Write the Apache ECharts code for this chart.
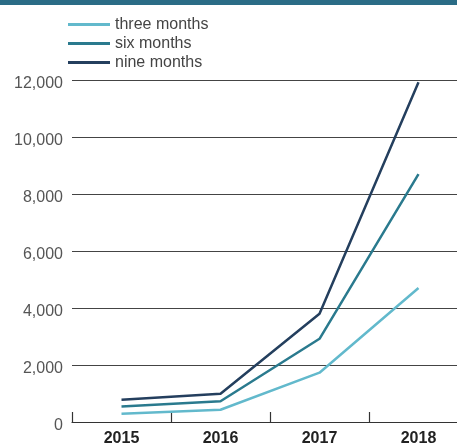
<!DOCTYPE html>
<html>
<head>
<meta charset="utf-8">
<script src="https://cdn.jsdelivr.net/npm/echarts@6/dist/echarts.min.js"></script>
<style>
  html, body { margin: 0; padding: 0; background: #fff; }
  #chart { width: 457px; height: 447px; }
</style>
</head>
<body>
<div id="chart"></div>
<script>
// Years on the category axis
const years = ['2015', '2016', '2017', '2018'];

// Totals per period length
const threeMonths = [290, 430, 1730, 4700];
const sixMonths = [540, 730, 2920, 8700];
const nineMonths = [780, 990, 3800, 11920];

// Value axis ticks
const yTicks = [0, 2000, 4000, 6000, 8000, 10000, 12000];

const seriesNames = ['three months', 'six months', 'nine months'];
const seriesColors = ['#62b9cc', '#2a7a8e', '#243f5e'];
const seriesData = [threeMonths, sixMonths, nineMonths];

const FONT = 'Liberation Sans, Arial, sans-serif';

const chart = echarts.init(document.getElementById('chart'));

chart.setOption({
  animation: false,
  backgroundColor: '#ffffff',
  graphic: [{
    type: 'rect',
    left: 0, top: 0,
    shape: { width: 457, height: 5 },
    style: { fill: '#2b6c86' }
  }],
  legend: {
    orient: 'vertical',
    left: 63,
    top: 11,
    itemWidth: 42,
    itemHeight: 3,
    itemGap: 2,
    icon: 'rect',
    data: seriesNames,
    textStyle: {
      fontFamily: FONT,
      fontSize: 16,
      lineHeight: 17,
      color: '#444'
    }
  },
  grid: {
    left: 72,
    width: 396,
    top: 80,
    bottom: 25,
    containLabel: false,
    outerBoundsMode: 'none'
  },
  xAxis: {
    type: 'category',
    data: years,
    boundaryGap: true,
    axisLine: { lineStyle: { color: '#333', width: 1.2 } },
    axisTick: { show: true, inside: true, length: 10, lineStyle: { color: '#333', width: 1.2 } },
    axisLabel: {
      fontFamily: FONT,
      fontSize: 16,
      fontWeight: 'bold',
      color: '#222',
      margin: 9
    }
  },
  yAxis: {
    type: 'value',
    min: yTicks[0],
    max: yTicks[yTicks.length - 1],
    interval: 2000,
    axisLine: { show: false },
    axisTick: { show: false },
    splitLine: { lineStyle: { color: '#444', width: 1 } },
    axisLabel: {
      fontFamily: FONT,
      fontSize: 16,
      color: '#555',
      margin: 9,
      verticalAlign: 'top',
      lineHeight: 8,
      formatter: v => v.toLocaleString('en-US')
    }
  },
  series: seriesNames.map((name, i) => ({
    name: name,
    type: 'line',
    data: seriesData[i],
    symbol: 'none',
    color: seriesColors[i],
    lineStyle: { width: 2.5, color: seriesColors[i] }
  }))
});
</script>
</body>
</html>
